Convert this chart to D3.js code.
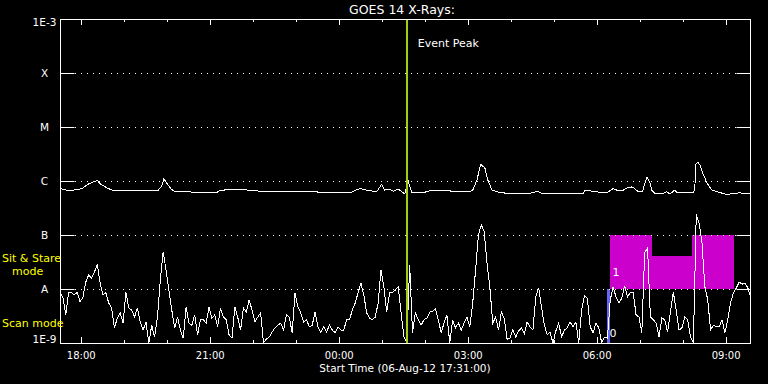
<!DOCTYPE html>
<html>
<head>
<meta charset="utf-8">
<script src="https://cdn.jsdelivr.net/npm/d3@7"></script>
<style>
  html, body { margin: 0; padding: 0; background: #000; }
  svg { display: block; }
  text { font-family: "DejaVu Sans", sans-serif; fill: #fff; }
</style>
</head>
<body>
<div id="chart"></div>
<script>
// start of the plot window (UTC)
const startTime = new Date(Date.UTC(2012, 7, 6, 17, 31));
const spanMinutes = 963;

// flare classes on the log axis
const classLabels = ["1E-9", "A", "B", "C", "M", "X", "1E-3"];
const classLevels = [1e-9, 1e-8, 1e-7, 1e-6, 1e-5, 1e-4, 1e-3];

// 0.5-4 A channel, log10 flux (W/m^2), one value every 4 minutes
const shortStep = 4;
const shortLogFlux = [
  -8.07, -8.15, -8.48, -8.06, -8.07, -8.11, -8.06, -8.24, -8.15, -7.87,
  -7.74, -7.80, -7.69, -7.54, -7.89, -8.11, -8.07, -8.26, -8.35, -8.72,
  -8.54, -8.44, -8.63, -8.06, -8.35, -8.39, -8.52, -8.35, -8.61, -8.76,
  -8.61, -9.10, -8.67, -8.89, -8.52, -7.83, -7.31, -7.65, -8.02, -8.39,
  -8.72, -8.52, -8.76, -8.91, -8.33, -8.63, -8.67, -8.48, -8.85, -8.57,
  -8.57, -8.63, -8.33, -8.54, -8.48, -8.70, -8.35, -8.52, -8.57, -8.85,
  -8.91, -8.33, -8.52, -8.76, -8.35, -8.43, -8.20, -8.39, -8.61, -8.52,
  -8.44, -9.10, -8.93, -8.89, -8.80, -8.72, -8.67, -8.63, -8.76, -8.48,
  -8.52, -8.81, -8.07, -8.33, -8.44, -8.61, -8.57, -8.70, -8.67, -8.43,
  -8.70, -8.81, -8.70, -8.80, -8.67, -8.76, -8.81, -8.70, -8.76, -8.76,
  -8.57, -8.57, -8.39, -8.26, -8.07, -7.89, -8.11, -8.44, -8.54, -8.57,
  -8.52, -8.26, -7.65, -7.96, -8.43, -8.07, -8.06, -8.02, -7.96, -8.44,
  -8.89, -9.10, -7.55, -8.81, -8.44, -8.57, -8.67, -8.57, -8.54, -8.43,
  -8.41, -8.37, -8.57, -8.81, -8.63, -8.48, -9.10, -8.57, -8.72, -8.63,
  -8.76, -8.63, -8.52, -8.70, -8.26, -7.65, -7.00, -6.81, -6.94, -7.52,
  -7.98, -8.63, -8.52, -8.76, -8.43, -8.54, -8.93, -8.91, -8.76, -8.89,
  -8.78, -8.72, -8.83, -8.61, -8.70, -8.76, -8.15, -7.98, -8.33, -8.67,
  -8.85, -8.80, -9.10, -8.78, -8.63, -8.89, -8.76, -8.72, -8.61, -8.70,
  -8.61, -9.10, -8.39, -8.13, -8.17, -8.70, -8.81, -8.63, -8.72, -9.10,
  -8.89, -8.91, -8.20, -7.96, -8.15, -8.26, -8.17, -7.94, -8.15, -8.06,
  -8.06, -8.48, -8.52, -8.81, -7.33, -7.24, -8.52, -8.57, -8.63, -8.89,
  -8.54, -8.57, -8.80, -8.43, -8.06, -8.39, -8.76, -8.72, -8.52, -8.57,
  -8.89, -9.10, -6.62, -6.78, -7.15, -7.96, -8.20, -8.76, -8.67, -8.70,
  -8.70, -8.57, -8.81, -8.57, -8.24, -8.07, -7.98, -7.87, -7.91, -7.89,
  -7.98, -8.15
];

// 1-8 A channel, minutes after start and log10 flux (W/m^2)
const longMinutes = [
  0, 10, 17, 25, 32, 39, 46, 52, 57, 66, 73, 98, 137, 142, 145, 149, 155, 160,
  181, 184, 219, 223, 244, 269, 279, 325, 359, 360, 405, 412, 419, 428, 442,
  449, 453, 460, 465, 472, 477, 481, 486, 491, 506, 516, 544, 548, 572, 576,
  582, 587, 593, 597, 603, 610, 618, 638, 660, 666, 673, 684, 712, 730, 733,
  740, 744, 749, 756, 763, 772, 779, 786, 791, 798, 802, 807, 813, 815, 819,
  823, 826, 830, 841, 847, 851, 858, 862, 883, 886, 887, 890, 893, 897, 903,
  910, 917, 931, 939, 949, 963
];
const longLogFlux = [
  -6.14, -6.17, -6.17, -6.16, -6.13, -6.06, -6.02, -5.99, -6.06, -6.13, -6.17,
  -6.17, -6.17, -6.09, -5.96, -6.04, -6.15, -6.19, -6.19, -6.21, -6.21, -6.17,
  -6.16, -6.17, -6.19, -6.19, -6.19, -6.22, -6.22, -6.17, -6.14, -6.17, -6.20,
  -6.06, -6.17, -6.15, -6.19, -6.15, -6.20, -6.24, -6.00, -6.22, -6.22, -6.18,
  -6.18, -6.20, -6.20, -6.17, -5.98, -5.69, -5.76, -5.98, -6.17, -6.20, -6.22,
  -6.24, -6.22, -6.19, -6.23, -6.24, -6.24, -6.24, -6.17, -6.18, -6.20, -6.20,
  -6.22, -6.22, -6.14, -6.18, -6.17, -6.13, -6.11, -6.14, -6.20, -6.20, -6.09,
  -5.93, -6.02, -6.17, -6.23, -6.23, -6.20, -6.24, -6.17, -6.22, -6.22, -6.17,
  -5.70, -5.65, -5.70, -5.85, -6.04, -6.17, -6.20, -6.25, -6.23, -6.22, -6.24
];

// event peak and sit & stare blocks (minutes after start)
const eventPeakMinute = 484;
const ssStart = [767, 826, 882];
const ssEnd = [826, 882, 940];
const ssLogTop = [-7, -7.38, -7];
const ssLevelLabel = "1";
const scanStart = 763;
const scanEnd = 767;

const width = 768;
const height = 384;
const margin = { top: 19, right: 18, bottom: 41, left: 60 };
const minutes = m => new Date(startTime.getTime() + m * 60000);

const svg = d3.select("#chart")
  .append("svg")
  .attr("width", width)
  .attr("height", height)
  .style("background", "#000");

const x = d3.scaleUtc()
  .domain([startTime, minutes(spanMinutes)])
  .range([margin.left, width - margin.right]);

const y = d3.scaleLog()
  .domain([1e-9, 1e-3])
  .range([height - margin.bottom, margin.top])
  .clamp(true);

const x0 = margin.left, x1 = width - margin.right;
const y0 = height - margin.bottom, y1 = margin.top;

// sit & stare blocks
svg.append("g")
  .attr("shape-rendering", "crispEdges")
  .selectAll("rect")
  .data(ssStart.map((s, i) => ({ s, e: ssEnd[i], top: ssLogTop[i] })))
  .enter().append("rect")
  .attr("x", d => x(minutes(d.s)))
  .attr("width", d => x(minutes(d.e)) - x(minutes(d.s)))
  .attr("y", d => y(Math.pow(10, d.top)))
  .attr("height", d => y(1e-8) - y(Math.pow(10, d.top)))
  .attr("fill", "#cc00cc");

svg.append("rect")
  .attr("shape-rendering", "crispEdges")
  .attr("x", x(minutes(scanStart)))
  .attr("width", x(minutes(scanEnd)) - x(minutes(scanStart)))
  .attr("y", y(1e-8))
  .attr("height", y(1e-9) - y(1e-8))
  .attr("fill", "#6464ff");

// dotted class lines
svg.append("g")
  .selectAll("line")
  .data(classLevels.slice(1, -1))
  .enter().append("line")
  .attr("x1", x0 + 15)
  .attr("x2", x1 - 14)
  .attr("y1", d => Math.round(y(d)) + 0.5)
  .attr("y2", d => Math.round(y(d)) + 0.5)
  .attr("stroke", "#fff")
  .attr("stroke-width", 1)
  .attr("stroke-dasharray", "1,5");

// data lines
const shortData = shortLogFlux.map((v, i) => ({ t: minutes(i * shortStep), v }));
const longData = longLogFlux.map((v, i) => ({ t: minutes(longMinutes[i]), v }));
const line = d3.line()
  .x(d => x(d.t))
  .y(d => y(Math.pow(10, d.v)));

svg.append("clipPath").attr("id", "plot")
  .append("rect").attr("x", x0).attr("y", y1).attr("width", x1 - x0).attr("height", y0 - y1);

const curves = svg.append("g")
  .attr("clip-path", "url(#plot)")
  .attr("shape-rendering", "crispEdges");
curves.append("path")
  .datum(longData)
  .attr("d", line)
  .attr("fill", "none")
  .attr("stroke", "#fff")
  .attr("stroke-width", 1);
curves.append("path")
  .datum(shortData)
  .attr("d", line)
  .attr("fill", "none")
  .attr("stroke", "#fff")
  .attr("stroke-width", 1);

// event peak
svg.append("line")
  .attr("x1", Math.round(x(minutes(eventPeakMinute))))
  .attr("x2", Math.round(x(minutes(eventPeakMinute))))
  .attr("y1", y1)
  .attr("y2", y0)
  .attr("stroke", "#a0d010")
  .attr("stroke-width", 2);
svg.append("text")
  .attr("x", x(minutes(eventPeakMinute)) + 11)
  .attr("y", 47)
  .style("font-size", "11px")
  .text("Event Peak");

// block labels
svg.append("text")
  .attr("x", x(minutes(ssStart[0])) + 3)
  .attr("y", 276)
  .style("font-size", "11px")
  .text(ssLevelLabel);
svg.append("text")
  .attr("x", x(minutes(scanEnd)))
  .attr("y", 337)
  .style("font-size", "11px")
  .text("0");

// frame
svg.append("rect")
  .attr("x", x0 + 0.5)
  .attr("y", y1 + 0.5)
  .attr("width", x1 - x0)
  .attr("height", y0 - y1)
  .attr("fill", "none")
  .attr("stroke", "#fff");

// time axes: hourly ticks, longer every 3 hours
const hours = x.ticks(d3.utcHour.every(1));
const isMajor = d => d.getUTCHours() % 3 === 0;
const timeTicks = svg.append("g");
timeTicks.selectAll(".tb")
  .data(hours).enter().append("line")
  .attr("x1", d => Math.round(x(d)) + 0.5).attr("x2", d => Math.round(x(d)) + 0.5)
  .attr("y1", y0).attr("y2", d => y0 - (isMajor(d) ? 6 : 3))
  .attr("stroke", "#fff");
timeTicks.selectAll(".tt")
  .data(hours).enter().append("line")
  .attr("x1", d => Math.round(x(d)) + 0.5).attr("x2", d => Math.round(x(d)) + 0.5)
  .attr("y1", y1).attr("y2", d => y1 + (isMajor(d) ? 6 : 3))
  .attr("stroke", "#fff");

const xAxis = d3.axisBottom(x)
  .ticks(d3.utcHour.every(3))
  .tickFormat(d3.utcFormat("%H:%M"))
  .tickSize(0)
  .tickPadding(9);
svg.append("g")
  .attr("transform", `translate(0,${y0})`)
  .call(xAxis)
  .call(g => g.select(".domain").remove())
  .call(g => g.selectAll("text")
    .attr("fill", "#fff")
    .style("font-family", "DejaVu Sans")
    .style("font-size", "10px"));

svg.append("text")
  .attr("x", 405)
  .attr("y", 372)
  .attr("text-anchor", "middle")
  .style("font-size", "10.5px")
  .text("Start Time (06-Aug-12 17:31:00)");

// class axes
const yAxis = d3.axisLeft(y)
  .tickValues(classLevels)
  .tickFormat((d, i) => classLabels[i])
  .tickSize(-14)
  .tickPadding(0);
svg.append("g")
  .attr("transform", `translate(${x0 + 0.5},0)`)
  .call(yAxis)
  .call(g => g.select(".domain").remove())
  .call(g => g.selectAll("line").attr("stroke", "#fff"))
  .call(g => g.selectAll("text")
    .attr("fill", "#fff")
    .attr("text-anchor", "middle")
    .attr("x", -16)
    .attr("dy", (d, i) => i === 0 ? "-0.05em" : i === classLevels.length - 1 ? "0.65em" : "0.35em")
    .style("font-family", "DejaVu Sans")
    .style("font-size", "10.5px"));

svg.append("g")
  .attr("transform", `translate(${x1 + 0.5},0)`)
  .call(d3.axisRight(y).tickValues(classLevels.slice(1, -1)).tickSize(-14).tickFormat(""))
  .call(g => g.select(".domain").remove())
  .call(g => g.selectAll("line").attr("stroke", "#fff"));

// mode labels
const modeLabels = svg.append("g").style("font-size", "11px");
modeLabels.append("text").attr("x", 2).attr("y", 262).style("fill", "#ffff00").text("Sit & Stare");
modeLabels.append("text").attr("x", 12).attr("y", 275).style("fill", "#ffff00").text("mode");
modeLabels.append("text").attr("x", 2).attr("y", 327).style("fill", "#ffff00").text("Scan mode");

// title
svg.append("text")
  .attr("x", 402)
  .attr("y", 14)
  .attr("text-anchor", "middle")
  .style("font-size", "12.5px")
  .text("GOES 14 X-Rays:");
</script>
</body>
</html>
